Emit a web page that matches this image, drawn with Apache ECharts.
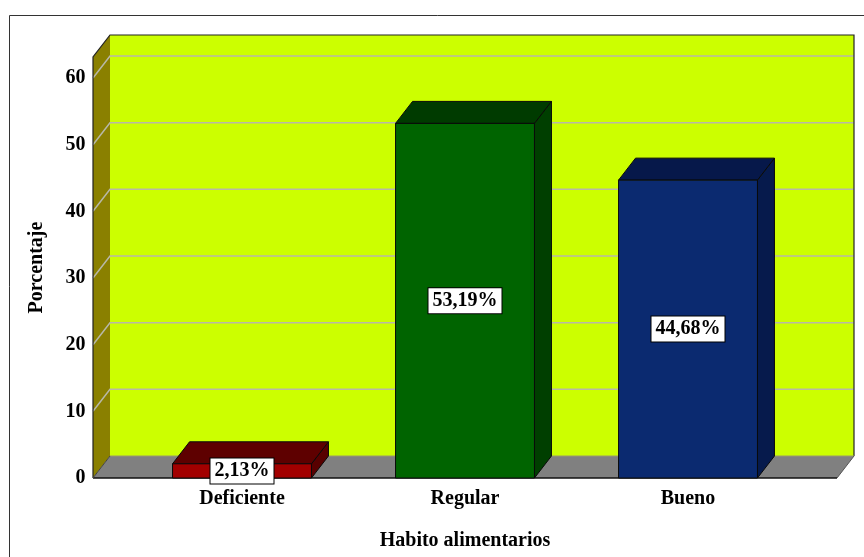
<!DOCTYPE html>
<html>
<head>
<meta charset="utf-8">
<script src="https://cdn.jsdelivr.net/npm/echarts@6/dist/echarts.min.js"></script>
<style>
  html, body { margin: 0; padding: 0; background: #fff; }
  #chart { width: 864px; height: 557px; }
</style>
</head>
<body>
<div id="chart"></div>
<script>
// Data
const categories = ['Deficiente', 'Regular', 'Bueno'];
const percentages = [2.13, 53.19, 44.68];
const yMax = 63.15;
const yStep = 10;
const gridValues = [10, 20, 30, 40, 50, 60];

// Colours per bar: front, top, side
const frontColors = ['#a20000', '#006400', '#0b2a70'];
const topColors = ['#5e0000', '#003b00', '#06184a'];
const sideColors = ['#580000', '#003f00', '#061a4c'];

// 3D look
const DX = 17, DY = 22;       // depth offset of the box
const SIDE_PAD = 37.5;        // floor / wall extension beyond outer bands
const BAR_RATIO = 0.623;      // front face width / band width
const FONT = '"Liberation Serif", "Times New Roman", serif';

const chart = echarts.init(document.getElementById('chart'), null, { renderer: 'canvas' });

function fmtPct(v) {
  return v.toFixed(2).replace('.', ',') + '%';
}

// Walls, floor and gridlines of the 3D box
function renderFrame(params, api) {
  const n = categories.length;
  const c0 = api.coord([0, 0]);
  const band = api.size([1, 0])[0];
  const xL = c0[0] - band / 2 - SIDE_PAD;
  const xR = c0[0] + band * (n - 0.5) + SIDE_PAD;
  const y0 = c0[1];
  const yT = api.coord([0, yMax])[1];
  const children = [];
  // back wall
  children.push({ type: 'rect', shape: { x: xL + DX, y: yT - DY, width: xR - xL, height: y0 - yT },
    style: { fill: '#ccff00' } });
  // left wall
  children.push({ type: 'polygon', shape: { points: [[xL, y0], [xL + DX, y0 - DY], [xL + DX, yT - DY], [xL, yT]] },
    style: { fill: '#8a8000' } });
  // floor
  children.push({ type: 'polygon', shape: { points: [[xL, y0], [xL + DX, y0 - DY], [xR + DX, y0 - DY], [xR, y0]] },
    style: { fill: '#808080' } });
  // gridlines
  gridValues.forEach(function (v) {
    const y = api.coord([0, v])[1];
    children.push({ type: 'polyline', shape: { points: [[xL, y], [xL + DX, y - DY], [xR + DX, y - DY]] },
      style: { stroke: '#b8b8a8', lineWidth: 1.5, fill: null } });
  });
  // edges
  children.push({ type: 'polyline', shape: { points: [[xL, y0], [xL, yT], [xL + DX, yT - DY], [xR + DX, yT - DY], [xR + DX, y0 - DY]] },
    style: { stroke: '#222', lineWidth: 1.2, fill: null } });
  children.push({ type: 'line', shape: { x1: xL + DX, y1: y0 - DY, x2: xR + DX, y2: y0 - DY },
    style: { stroke: '#9a9a6a', lineWidth: 1 } });
  children.push({ type: 'line', shape: { x1: xR, y1: y0, x2: xR + DX, y2: y0 - DY },
    style: { stroke: '#555', lineWidth: 1 } });
  children.push({ type: 'line', shape: { x1: xL, y1: y0, x2: xR, y2: y0 },
    style: { stroke: '#111', lineWidth: 1.5 } });
  children.push({ type: 'line', shape: { x1: xL, y1: y0, x2: xL + DX, y2: y0 - DY },
    style: { stroke: '#444', lineWidth: 1 } });
  return { type: 'group', children: children };
}

// 3D bars with a boxed value label on the front face
function renderBar(params, api) {
  const i = params.dataIndex;
  const v = api.value(1);
  const base = api.coord([api.value(0), 0]);
  const top = api.coord([api.value(0), v]);
  const band = api.size([1, 0])[0];
  const hw = band * BAR_RATIO / 2;
  const x0 = base[0] - hw, x1 = base[0] + hw;
  const yb = base[1], yt = top[1];
  const edge = { stroke: '#0a0a0a', lineWidth: 1, lineJoin: 'round' };
  return {
    type: 'group',
    children: [
      { type: 'polygon', shape: { points: [[x1, yt], [x1 + DX, yt - DY], [x1 + DX, yb - DY], [x1, yb]] },
        style: Object.assign({ fill: sideColors[i] }, edge) },
      { type: 'polygon', shape: { points: [[x0, yt], [x0 + DX, yt - DY], [x1 + DX, yt - DY], [x1, yt]] },
        style: Object.assign({ fill: topColors[i] }, edge) },
      { type: 'rect', shape: { x: x0, y: yt, width: x1 - x0, height: yb - yt },
        style: Object.assign({ fill: frontColors[i] }, edge) },
      { type: 'text', x: base[0], y: (yt + yb) / 2, z2: 100,
        style: { text: fmtPct(v), font: 'bold 20px ' + FONT, fill: '#000',
          align: 'center', verticalAlign: 'middle',
          backgroundColor: '#fff', borderColor: '#000', borderWidth: 1, padding: [3, 4, 2, 4] } }
    ]
  };
}

chart.setOption({
  animation: false,
  backgroundColor: '#fff',
  graphic: [{
    type: 'rect', silent: true, z: -10,
    shape: { x: 9.5, y: 15.5, width: 900, height: 600 },
    style: { fill: null, stroke: '#333', lineWidth: 1 }
  }],
  grid: { left: 130.5, right: 64.5, top: 57, bottom: 79 },
  xAxis: {
    type: 'category',
    data: categories,
    axisLine: { show: false },
    axisTick: { show: false },
    axisLabel: { color: '#000', fontFamily: FONT, fontWeight: 'bold', fontSize: 20, margin: 11 },
    name: 'Habito alimentarios',
    nameLocation: 'middle',
    nameGap: 53,
    nameTextStyle: { color: '#000', fontFamily: FONT, fontWeight: 'bold', fontSize: 20 }
  },
  yAxis: {
    type: 'value',
    min: 0,
    max: yMax,
    interval: yStep,
    axisLine: { show: false },
    axisTick: { show: false },
    splitLine: { show: false },
    axisLabel: {
      color: '#000', fontFamily: FONT, fontWeight: 'bold', fontSize: 20, margin: 45,
      formatter: function (v) { return (Math.abs(v % yStep) < 1e-6) ? String(Math.round(v)) : ''; }
    },
    name: 'Porcentaje',
    nameLocation: 'middle',
    nameGap: 84,
    nameTextStyle: { color: '#000', fontFamily: FONT, fontWeight: 'bold', fontSize: 20 }
  },
  series: [
    {
      type: 'custom',
      name: 'frame',
      silent: true,
      clip: false,
      z: 1,
      renderItem: renderFrame,
      data: [[0, 0]],
      encode: { x: 0, y: 1 }
    },
    {
      type: 'custom',
      name: 'Porcentaje',
      clip: false,
      z: 2,
      renderItem: renderBar,
      data: percentages.map(function (v, i) { return [i, v]; }),
      encode: { x: 0, y: 1 }
    }
  ]
});
</script>
</body>
</html>
